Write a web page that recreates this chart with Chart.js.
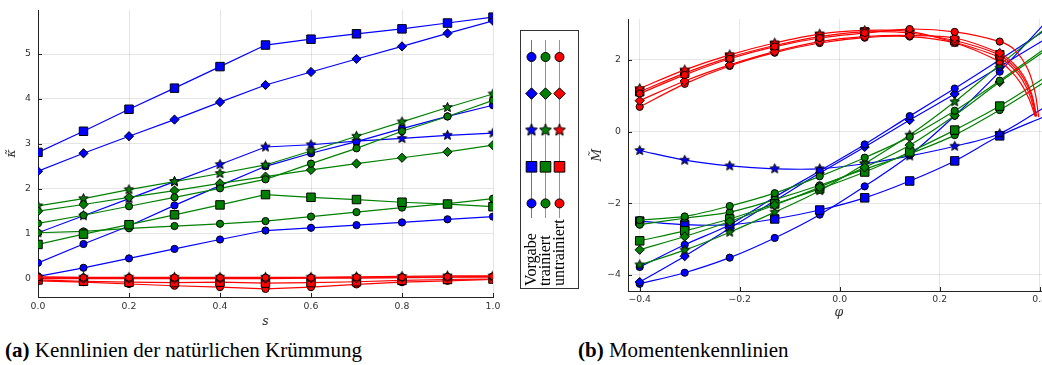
<!DOCTYPE html>
<html lang="de">
<head>
<meta charset="utf-8">
<title>Kennlinien</title>
<script src="https://cdn.jsdelivr.net/npm/chart.js@4.4.1/dist/chart.umd.min.js"></script>
<style>
  html, body { margin: 0; padding: 0; background: #fff; }
  body { width: 1042px; height: 365px; overflow: hidden; position: relative; }
  canvas { position: absolute; top: 0; }
  #kruemmung { left: 0; }
  #moment { left: 585px; }
  .caption {
    position: absolute; top: 340px; white-space: nowrap; color: #000;
    font: 21px "Liberation Serif", "Times New Roman", serif; line-height: 21px;
  }
</style>
</head>
<body>
<canvas id="kruemmung" width="585" height="330"></canvas>
<canvas id="moment" width="475" height="330"></canvas>
<div class="caption" style="left:5px"><b>(a)</b> Kennlinien der natürlichen Krümmung</div>
<div class="caption" style="left:578px"><b>(b)</b> Momentenkennlinien</div>
<script>
// Stützstellen und Achsenteilung
const sWerte = [0, 0.1, 0.2, 0.3, 0.4, 0.5, 0.6, 0.7, 0.8, 0.9, 1.0];
const phiWerte = [-0.4, -0.31, -0.22, -0.13, -0.04, 0.05, 0.14, 0.23, 0.32];

const sTicks = [0, 0.2, 0.4, 0.6, 0.8, 1.0];
const kappaTicks = [0, 1, 2, 3, 4, 5];
const phiTicks = [-0.4, -0.2, 0, 0.2, 0.4];
const momentTicks = [-4, -2, 0, 2];

const reihenNamen = ['Vorgabe', 'trainiert', 'untrainiert'];
const markerArten = ['kreis', 'raute', 'stern', 'quadrat', 'kreis'];

// (a) natürliche Krümmung über s
const kappaVorgabeKreis1 = [0.35, 0.77, 1.17, 1.63, 2.07, 2.50, 2.79, 3.05, 3.34, 3.61, 3.86];
const kappaVorgabeRaute = [2.39, 2.79, 3.17, 3.54, 3.93, 4.31, 4.60, 4.89, 5.17, 5.46, 5.74];
const kappaVorgabeStern = [1.02, 1.40, 1.78, 2.16, 2.54, 2.93, 2.98, 3.06, 3.12, 3.19, 3.24];
const kappaVorgabeQuadrat = [2.81, 3.28, 3.77, 4.24, 4.72, 5.20, 5.33, 5.45, 5.56, 5.69, 5.82];
const kappaVorgabeKreis2 = [0.05, 0.24, 0.45, 0.66, 0.87, 1.07, 1.13, 1.19, 1.25, 1.32, 1.38];

const kappaTrainiertKreis1 = [1.23, 1.41, 1.61, 1.81, 2.01, 2.21, 2.56, 2.90, 3.28, 3.61, 3.97];
const kappaTrainiertRaute = [1.50, 1.65, 1.81, 1.96, 2.12, 2.27, 2.42, 2.56, 2.69, 2.82, 2.97];
const kappaTrainiertStern = [1.62, 1.78, 1.98, 2.16, 2.34, 2.53, 2.84, 3.17, 3.49, 3.81, 4.11];
const kappaTrainiertQuadrat = [0.76, 0.99, 1.20, 1.42, 1.64, 1.87, 1.81, 1.76, 1.70, 1.66, 1.60];
const kappaTrainiertKreis2 = [1.02, 1.05, 1.12, 1.17, 1.22, 1.28, 1.38, 1.48, 1.58, 1.67, 1.78];

const kappaUntrainiertKreis1 = [0.03, 0.02, 0.02, 0.02, 0.02, 0.02, 0.02, 0.03, 0.03, 0.04, 0.05];
const kappaUntrainiertRaute = [0.00, 0.00, 0.00, 0.00, 0.00, 0.00, 0.01, 0.01, 0.02, 0.03, 0.03];
const kappaUntrainiertStern = [0.04, 0.03, 0.03, 0.03, 0.03, 0.03, 0.03, 0.04, 0.05, 0.06, 0.06];
const kappaUntrainiertQuadrat = [-0.03, -0.06, -0.08, -0.09, -0.08, -0.10, -0.09, -0.07, -0.04, -0.02, -0.01];
const kappaUntrainiertKreis2 = [-0.05, -0.08, -0.12, -0.16, -0.19, -0.23, -0.19, -0.13, -0.08, -0.05, -0.02];

// (b) Moment über phi, Werte an den Markern
const momentVorgabeKreis1 = [-3.78, -3.16, -2.60, -1.83, -1.10, -0.36, 0.43, 1.20, 2.00];
const momentVorgabeRaute = [-4.20, -3.48, -2.70, -1.93, -1.16, -0.43, 0.32, 1.05, 1.81];
const momentVorgabeStern = [-0.53, -0.80, -0.96, -1.04, -1.04, -0.90, -0.68, -0.41, -0.06];
const momentVorgabeQuadrat = [-2.50, -2.60, -2.60, -2.44, -2.19, -1.85, -1.38, -0.82, -0.12];
const momentVorgabeKreis2 = [-4.25, -3.94, -3.52, -2.97, -2.32, -1.53, -0.66, 0.44, 1.67];

const momentTrainiertKreis1 = [-2.47, -2.37, -2.08, -1.72, -1.25, -0.73, -0.15, 0.58, 1.42];
const momentTrainiertRaute = [-3.30, -2.93, -2.51, -2.05, -1.55, -1.00, -0.38, 0.45, 1.38];
const momentTrainiertStern = [-3.72, -3.31, -2.81, -2.25, -1.65, -0.90, -0.10, 0.83, 1.86];
const momentTrainiertQuadrat = [-3.05, -2.77, -2.44, -2.02, -1.60, -1.13, -0.57, 0.04, 0.71];
const momentTrainiertKreis2 = [-2.60, -2.42, -2.25, -1.90, -1.50, -1.05, -0.62, -0.10, 0.60];

const momentUntrainiertKreis1 = [1.06, 1.58, 2.03, 2.37, 2.61, 2.75, 2.86, 2.78, 2.51];
const momentUntrainiertRaute = [0.86, 1.41, 1.86, 2.23, 2.51, 2.65, 2.68, 2.61, 2.19];
const momentUntrainiertStern = [1.20, 1.72, 2.14, 2.47, 2.72, 2.82, 2.79, 2.49, 2.07];
const momentUntrainiertQuadrat = [1.11, 1.63, 2.07, 2.40, 2.65, 2.78, 2.75, 2.54, 2.14];
const momentUntrainiertKreis2 = [0.69, 1.33, 1.83, 2.20, 2.47, 2.62, 2.65, 2.47, 1.95];

// Kurvenenden rechts der letzten Marker [phi, M], ohne Marker
const momentVorgabeKreis1Ende = [[0.41, 2.82]];
const momentVorgabeRauteEnde = [[0.41, 2.57]];
const momentVorgabeSternEnde = [[0.41, 0.68]];
const momentVorgabeQuadratEnde = [[0.41, 0.42]];
const momentVorgabeKreis2Ende = [[0.41, 3.02]];

const momentTrainiertKreis1Ende = [[0.41, 2.31]];
const momentTrainiertRauteEnde = [[0.41, 2.25]];
const momentTrainiertSternEnde = [[0.41, 2.86]];
const momentTrainiertQuadratEnde = [[0.41, 1.50]];
const momentTrainiertKreis2Ende = [[0.41, 1.38]];

const momentUntrainiertKreis1Ende = [[0.35, 2.28], [0.377, 1.72], [0.391, 1.07], [0.398, 0.40]];
const momentUntrainiertRauteEnde = [[0.346, 1.92], [0.368, 1.55], [0.384, 1.05], [0.394, 0.42]];
const momentUntrainiertSternEnde = [[0.344, 1.80], [0.365, 1.45], [0.381, 0.98], [0.392, 0.42]];
const momentUntrainiertQuadratEnde = [[0.345, 1.86], [0.367, 1.50], [0.383, 1.02], [0.393, 0.42]];
const momentUntrainiertKreis2Ende = [[0.343, 1.68], [0.363, 1.33], [0.379, 0.90], [0.391, 0.42]];

const farben = { Vorgabe: '#0000ff', trainiert: '#008000', untrainiert: '#ff0000' };
// rot oben, blau unten
const ebene = { Vorgabe: 2, trainiert: 1, untrainiert: 0 };

const sternCache = {};
function sternBild(farbe, r) {
    const key = farbe + r;
    if (sternCache[key]) return sternCache[key];
    const c = document.createElement('canvas');
    const s = Math.ceil(2 * r + 3);
    c.width = s;
    c.height = s;
    const g = c.getContext('2d');
    g.beginPath();
    for (let i = 0; i < 10; i++) {
        const rr = i % 2 === 0 ? r : r * 0.45;
        const a = -Math.PI / 2 + i * Math.PI / 5;
        const px = s / 2 + rr * Math.cos(a);
        const py = s / 2 + rr * Math.sin(a);
        if (i === 0) g.moveTo(px, py); else g.lineTo(px, py);
    }
    g.closePath();
    g.fillStyle = farbe;
    g.fill();
    g.lineWidth = 1;
    g.strokeStyle = '#000';
    g.stroke();
    sternCache[key] = c;
    return c;
}

function markerOptionen(art, farbe, gross) {
    const f = gross ? 1.25 : 1;
    switch (art) {
        case 'kreis': return { pointStyle: 'circle', radius: 3.6 * f };
        case 'raute': return { pointStyle: 'rectRot', radius: 4.6 * f };
        case 'quadrat': return { pointStyle: 'rect', radius: 6 * f };
        default: return { pointStyle: sternBild(farbe, 5 * f), radius: 5 * f };
    }
}

function datensatz(name, art, xs, ys, ende, tension) {
    const farbe = farben[name];
    const m = markerOptionen(art, farbe, false);
    const punkte = xs.map((x, i) => ({ x: x, y: ys[i] }))
        .concat((ende || []).map(([x, y]) => ({ x: x, y: y })));
    return {
        label: name + ' ' + art,
        data: punkte,
        showLine: true,
        borderColor: farbe,
        borderWidth: 1.2,
        backgroundColor: farbe,
        pointStyle: m.pointStyle,
        pointRadius: (ctx) => ctx.dataIndex < xs.length ? m.radius : 0,
        pointBackgroundColor: farbe,
        pointBorderColor: '#000',
        pointBorderWidth: 1,
        tension: tension,
        order: ebene[name]
    };
}

// Plots-artige Tickstriche nach innen
const innenTicks = {
    id: 'innenTicks',
    beforeDatasetsDraw(chart) {
        const { ctx, chartArea: a, scales: { x, y } } = chart;
        ctx.save();
        ctx.strokeStyle = '#222';
        ctx.lineWidth = 1;
        ctx.beginPath();
        x.ticks.forEach(t => {
            const px = Math.round(x.getPixelForValue(t.value)) + 0.5;
            ctx.moveTo(px, a.bottom);
            ctx.lineTo(px, a.bottom - 4);
        });
        y.ticks.forEach(t => {
            const py = Math.round(y.getPixelForValue(t.value)) + 0.5;
            ctx.moveTo(a.left, py);
            ctx.lineTo(a.left + 4, py);
        });
        ctx.stroke();
        ctx.restore();
    }
};

// gemeinsame Legende zwischen den beiden Diagrammen (hochkant)
const legende = {
    id: 'legende',
    afterDraw(chart) {
        const ctx = chart.ctx;
        ctx.save();
        ctx.strokeStyle = '#333';
        ctx.lineWidth = 1;
        ctx.strokeRect(520.5, 30.5, 58, 258);
        reihenNamen.forEach((name, i) => {
            const x = 531.5 + i * 14;
            const farbe = farben[name];
            ctx.globalAlpha = 0.6;
            ctx.strokeStyle = farbe;
            ctx.beginPath();
            ctx.moveTo(x, 40);
            ctx.lineTo(x, 218);
            ctx.stroke();
            ctx.globalAlpha = 1;
            markerArten.forEach((art, j) => {
                const m = markerOptionen(art, farbe, true);
                ctx.fillStyle = farbe;
                ctx.strokeStyle = '#000';
                ctx.lineWidth = 1;
                Chart.helpers.drawPoint(ctx, { pointStyle: m.pointStyle, radius: m.radius, borderWidth: 1, rotation: 0 }, x, 57 + j * 36.6);
            });
            ctx.save();
            ctx.translate(x, 286);
            ctx.rotate(-Math.PI / 2);
            ctx.fillStyle = '#000';
            ctx.font = '16px "Liberation Serif"';
            ctx.textAlign = 'left';
            ctx.textBaseline = 'middle';
            ctx.fillText(name, 0, 0);
            ctx.restore();
        });
        ctx.restore();
    }
};

const minus = (t) => t.replace('-', '\u2212');

function achse(min, max, ticks, format, titel, titelPadding, labelPadding, groesse, horizontal) {
    return {
        type: 'linear',
        min: min,
        max: max,
        afterBuildTicks: (sc) => { sc.ticks = ticks.map(v => ({ value: v })); },
        afterFit: (sc) => {
            if (horizontal) {
                sc.height = groesse;
                sc.paddingLeft = 0;
                sc.paddingRight = 0;
            } else {
                sc.width = groesse;
                sc.paddingTop = 0;
                sc.paddingBottom = 0;
            }
        },
        grid: { color: 'rgba(0,0,0,0.1)', drawTicks: false },
        border: { color: '#222', width: 1 },
        ticks: {
            padding: labelPadding,
            color: '#333',
            autoSkip: false,
            maxRotation: 0,
            font: { family: 'DejaVu Sans', size: 9.3 },
            callback: format
        },
        title: {
            display: true,
            text: titel,
            color: '#333',
            font: { family: 'DejaVu Serif', style: 'italic', size: 12.5 },
            padding: titelPadding
        }
    };
}

const grundOptionen = {
    responsive: false,
    animation: false,
    devicePixelRatio: 1,
    events: [],
    plugins: { legend: { display: false }, tooltip: { enabled: false } }
};

const kappaGruppen = [
    ['Vorgabe', [kappaVorgabeKreis1, kappaVorgabeRaute, kappaVorgabeStern, kappaVorgabeQuadrat, kappaVorgabeKreis2]],
    ['trainiert', [kappaTrainiertKreis1, kappaTrainiertRaute, kappaTrainiertStern, kappaTrainiertQuadrat, kappaTrainiertKreis2]],
    ['untrainiert', [kappaUntrainiertKreis1, kappaUntrainiertRaute, kappaUntrainiertStern, kappaUntrainiertQuadrat, kappaUntrainiertKreis2]]
];

const momentGruppen = [
    ['Vorgabe',
        [momentVorgabeKreis1, momentVorgabeRaute, momentVorgabeStern, momentVorgabeQuadrat, momentVorgabeKreis2],
        [momentVorgabeKreis1Ende, momentVorgabeRauteEnde, momentVorgabeSternEnde, momentVorgabeQuadratEnde, momentVorgabeKreis2Ende]],
    ['trainiert',
        [momentTrainiertKreis1, momentTrainiertRaute, momentTrainiertStern, momentTrainiertQuadrat, momentTrainiertKreis2],
        [momentTrainiertKreis1Ende, momentTrainiertRauteEnde, momentTrainiertSternEnde, momentTrainiertQuadratEnde, momentTrainiertKreis2Ende]],
    ['untrainiert',
        [momentUntrainiertKreis1, momentUntrainiertRaute, momentUntrainiertStern, momentUntrainiertQuadrat, momentUntrainiertKreis2],
        [momentUntrainiertKreis1Ende, momentUntrainiertRauteEnde, momentUntrainiertSternEnde, momentUntrainiertQuadratEnde, momentUntrainiertKreis2Ende]]
];

const kappaDatensaetze = [];
kappaGruppen.forEach(([name, reihen]) => {
    reihen.forEach((werte, j) => kappaDatensaetze.push(datensatz(name, markerArten[j], sWerte, werte, null, 0)));
});

const momentDatensaetze = [];
momentGruppen.forEach(([name, reihen, enden]) => {
    reihen.forEach((werte, j) => momentDatensaetze.push(datensatz(name, markerArten[j], phiWerte, werte, enden[j], 0.3)));
});

new Chart(document.getElementById('kruemmung'), {
    type: 'scatter',
    data: { datasets: kappaDatensaetze },
    options: Object.assign({}, grundOptionen, {
        layout: { padding: { left: 0, top: 10, right: 92, bottom: 0 } },
        scales: {
            x: achse(0, 1, sTicks, v => v.toFixed(1), 's', { top: 0, bottom: 1 }, 4, 33, true),
            y: achse(-0.41, 5.98, kappaTicks, v => String(v), '\u03BA\u0303', { top: 4, bottom: 0 }, 7, 38, false)
        }
    }),
    plugins: [innenTicks, legende]
});

new Chart(document.getElementById('moment'), {
    type: 'scatter',
    data: { datasets: momentDatensaetze },
    options: Object.assign({}, grundOptionen, {
        layout: { padding: { left: 0, top: 19, right: 10, bottom: 0 } },
        scales: {
            x: achse(-0.4234, 0.4206, phiTicks, v => minus(v.toFixed(1)), '\u03C6', { top: 0, bottom: 10 }, 3, 39, true),
            y: achse(-4.45, 3.14, momentTicks, v => minus(String(v)), 'M\u0303', { top: 5, bottom: 0 }, 7, 43, false)
        }
    }),
    plugins: [innenTicks]
});
</script>
</body>
</html>
